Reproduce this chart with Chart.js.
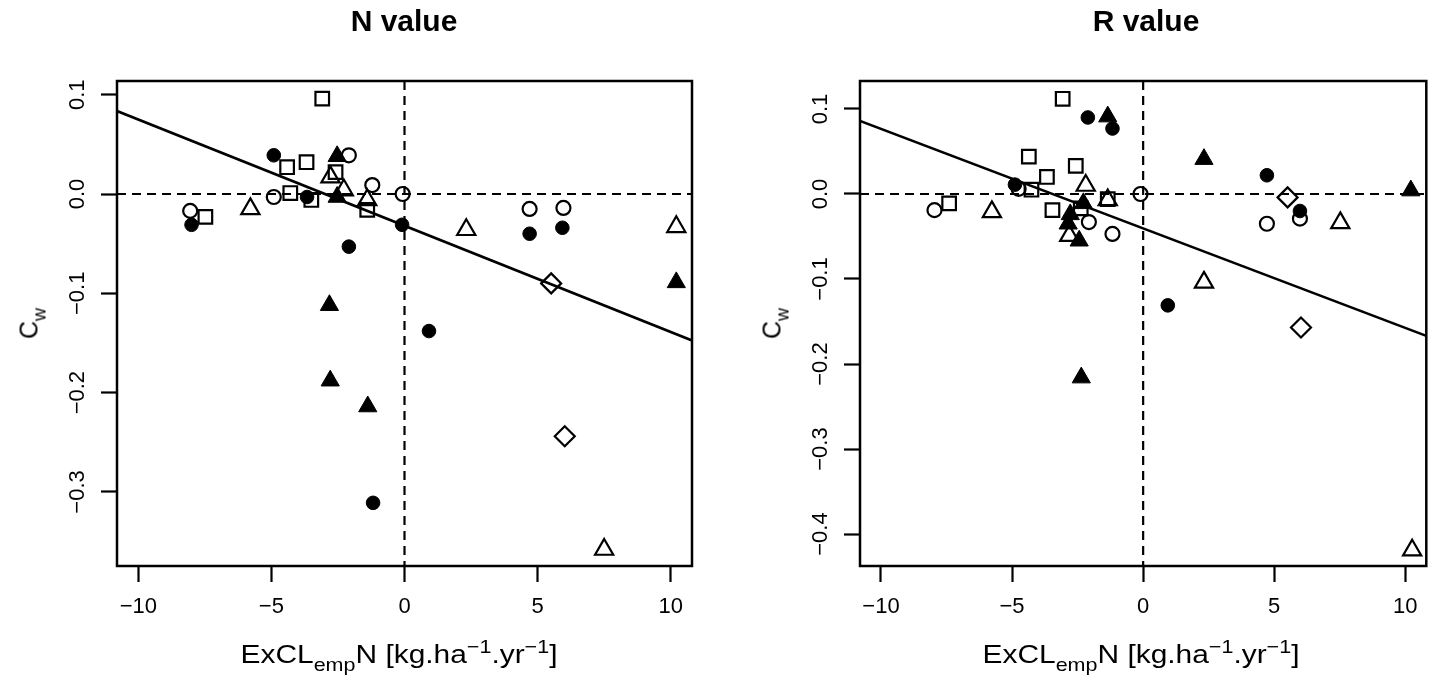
<!DOCTYPE html>
<html>
<head>
<meta charset="utf-8">
<script src="https://cdn.jsdelivr.net/npm/chart.js@4/dist/chart.umd.min.js"></script>
<style>
html, body { margin: 0; padding: 0; background: #fff; }
body { width: 1439px; height: 684px; position: relative; overflow: hidden;
       font-family: 'Liberation Sans', Arial, sans-serif; color: #000; }
canvas { position: absolute; top: 0; }
.title { position: absolute; top: 6px; width: 400px; text-align: center;
         font-weight: bold; font-size: 30px; line-height: 30px; white-space: nowrap; }
.xlab { position: absolute; top: 641px; width: 500px; text-align: center;
        font-size: 26px; line-height: 26px; white-space: nowrap; transform: scaleX(1.15); }
.ylab { position: absolute; top: 311px; width: 100px; height: 25px; text-align: center;
        font-size: 25px; line-height: 25px; white-space: nowrap; transform: rotate(-90deg); }
.sub { font-size: 72%; vertical-align: -0.45em; line-height: 0; }
.sup { font-size: 72%; vertical-align: 0.55em; line-height: 0; }
</style>
</head>
<body>
<canvas id="chartN" width="720" height="684" style="left:0"></canvas>
<canvas id="chartR" width="719" height="684" style="left:720px"></canvas>

<div class="title" style="left:204px">N value</div>
<div class="title" style="left:946px">R value</div>
<div class="xlab" style="left:149px">ExCL<span class="sub">emp</span>N [kg.ha<span class="sup">−1</span>.yr<span class="sup">−1</span>]</div>
<div class="xlab" style="left:891px">ExCL<span class="sub">emp</span>N [kg.ha<span class="sup">−1</span>.yr<span class="sup">−1</span>]</div>
<div class="ylab" style="left:-21px">C<span class="sub">w</span></div>
<div class="ylab" style="left:722px">C<span class="sub">w</span></div>

<script>
// axes
const xRange = [-10.8, 10.8];
const xTicks = [-10, -5, 0, 5, 10];
const xTickLabels = ['−10', '−5', '0', '5', '10'];

const nYRange = [-0.3746, 0.1138];
const nYTicks = [-0.3, -0.2, -0.1, 0, 0.1];
const nYTickLabels = ['−0.3', '−0.2', '−0.1', '0.0', '0.1'];

const rYRange = [-0.4376, 0.1329];
const rYTicks = [-0.4, -0.3, -0.2, -0.1, 0, 0.1];
const rYTickLabels = ['−0.4', '−0.3', '−0.2', '−0.1', '0.0', '0.1'];

const refLinesX = [0];
const refLinesY = [0];

// N value panel  [ExCL, Cw]
const nOpenCircle = [[-8.05,-0.017],[-4.91,-0.003],[-2.09,0.039],[-1.21,0.009],[-0.07,0.0],[4.70,-0.015],[5.97,-0.014]];
const nFilledCircle = [[-8.0,-0.031],[-4.91,0.039],[-3.66,-0.003],[-2.09,-0.053],[-1.18,-0.311],[-0.09,-0.031],[0.92,-0.138],[4.70,-0.040],[5.93,-0.034]];
const nOpenSquare = [[-7.48,-0.023],[-4.41,0.027],[-4.29,0.001],[-3.68,0.032],[-3.50,-0.006],[-3.09,0.096],[-2.59,0.022],[-1.40,-0.016]];
const nOpenTriangle = [[-5.79,-0.015],[-2.78,0.017],[-2.28,0.004],[-1.40,-0.006],[2.32,-0.036],[7.50,-0.358],[10.21,-0.033]];
const nFilledTriangle = [[-2.53,0.038],[-2.53,-0.003],[-2.82,-0.112],[-2.79,-0.188],[-1.38,-0.214],[10.21,-0.089]];
const nDiamond = [[5.51,-0.090],[6.02,-0.244]];
const nFitX = [-10.8, 10.8];
const nFitY = [0.0836, -0.1475];

// R value panel
const rOpenCircle = [[-7.96,-0.019],[-4.75,0.006],[-2.07,-0.033],[-1.17,-0.047],[-0.10,0.0],[4.72,-0.035],[5.98,-0.029]];
const rFilledCircle = [[-4.89,0.011],[-2.11,0.090],[-1.17,0.077],[0.94,-0.131],[4.72,0.022],[5.98,-0.020]];
const rOpenSquare = [[-7.40,-0.011],[-4.36,0.044],[-4.26,0.005],[-3.67,0.020],[-3.46,-0.019],[-3.07,0.112],[-2.57,0.033],[-2.38,-0.017],[-1.35,-0.006]];
const rOpenTriangle = [[-5.77,-0.021],[-2.19,0.010],[-2.82,-0.049],[-1.35,-0.007],[2.32,-0.104],[7.52,-0.034],[10.26,-0.419]];
const rFilledTriangle = [[-1.35,0.091],[-2.28,-0.011],[-2.78,-0.024],[-2.86,-0.035],[-2.44,-0.055],[-2.36,-0.216],[2.32,0.041],[10.21,0.004]];
const rDiamond = [[5.51,-0.004],[6.02,-0.157]];
const rFitX = [-10.8, 10.8];
const rFitY = [0.0859, -0.1669];

const toPts = arr => arr.map(p => ({ x: p[0], y: p[1] }));

// dashed reference lines + box around the plot region
const framePlugin = {
    id: 'frame',
    beforeDatasetsDraw(chart, args, opts) {
        const { ctx, chartArea: a, scales } = chart;
        ctx.save();
        ctx.beginPath();
        ctx.rect(a.left, a.top, a.right - a.left, a.bottom - a.top);
        ctx.clip();
        ctx.strokeStyle = '#000';
        ctx.lineWidth = 2.2;
        ctx.setLineDash([9, 6]);
        opts.refX.forEach(v => {
            const px = scales.x.getPixelForValue(v);
            ctx.beginPath(); ctx.moveTo(px, a.top); ctx.lineTo(px, a.bottom); ctx.stroke();
        });
        opts.refY.forEach(v => {
            const py = scales.y.getPixelForValue(v);
            ctx.beginPath(); ctx.moveTo(a.left, py); ctx.lineTo(a.right, py); ctx.stroke();
        });
        ctx.restore();
    },
    afterDraw(chart) {
        const { ctx, chartArea: a } = chart;
        ctx.save();
        ctx.strokeStyle = '#000';
        ctx.lineWidth = 2.5;
        ctx.strokeRect(a.left, a.top, a.right - a.left, a.bottom - a.top);
        ctx.restore();
    }
};

function markers(data, style, radius, filled) {
    return {
        data: toPts(data),
        pointStyle: style,
        pointRadius: radius,
        pointHoverRadius: radius,
        pointBorderWidth: filled ? 1 : 2.2,
        pointBorderColor: '#000',
        pointBackgroundColor: filled ? '#000' : 'rgba(0,0,0,0)'
    };
}

function makeChart(id, s, yRange, yTicks, yLabels, padRight, yWidth) {
    const fit = s.fitX.map((x, i) => ({ x: x, y: s.fitY[i] }));
    return new Chart(document.getElementById(id), {
        type: 'scatter',
        data: {
            datasets: [
                { data: fit, showLine: true, borderColor: '#000', borderWidth: 2.6, pointRadius: 0, fill: false },
                markers(s.openCircle, 'circle', 7, false),
                markers(s.filledCircle, 'circle', 6.8, true),
                markers(s.openSquare, 'rect', 9.6, false),
                markers(s.openTriangle, 'triangle', 10.5, false),
                markers(s.filledTriangle, 'triangle', 10.5, true),
                markers(s.diamond, 'rectRot', 10, false)
            ]
        },
        plugins: [framePlugin],
        options: {
            responsive: false,
            animation: false,
            layout: { padding: { top: 81, right: padRight, left: 0, bottom: 0 } },
            plugins: {
                legend: { display: false },
                tooltip: { enabled: false },
                frame: { refX: refLinesX, refY: refLinesY }
            },
            scales: {
                x: {
                    type: 'linear',
                    min: xRange[0], max: xRange[1],
                    afterBuildTicks: sc => { sc.ticks = xTicks.map(v => ({ value: v })); },
                    afterFit: sc => { sc.height = 118; },
                    border: { display: false },
                    grid: { drawOnChartArea: false, drawTicks: true, tickLength: 16, tickWidth: 2.2, tickColor: '#000' },
                    ticks: {
                        autoSkip: false, maxRotation: 0, padding: 12, color: '#000',
                        font: { family: 'Liberation Sans', size: 22 },
                        callback: (v, i) => xTickLabels[i]
                    }
                },
                y: {
                    type: 'linear',
                    min: yRange[0], max: yRange[1],
                    afterBuildTicks: sc => { sc.ticks = yTicks.map(v => ({ value: v })); },
                    afterFit: sc => { sc.width = yWidth; },
                    border: { display: false },
                    grid: { drawOnChartArea: false, drawTicks: true, tickLength: 16, tickWidth: 2.2, tickColor: '#000' },
                    ticks: {
                        autoSkip: false, minRotation: 90, maxRotation: 90, crossAlign: 'center',
                        padding: 1, color: '#000',
                        font: { family: 'Liberation Sans', size: 22 },
                        callback: (v, i) => yLabels[i]
                    }
                }
            }
        }
    });
}

makeChart('chartN', {
    openCircle: nOpenCircle, filledCircle: nFilledCircle, openSquare: nOpenSquare,
    openTriangle: nOpenTriangle, filledTriangle: nFilledTriangle, diamond: nDiamond,
    fitX: nFitX, fitY: nFitY
}, nYRange, nYTicks, nYTickLabels, 28, 117);

makeChart('chartR', {
    openCircle: rOpenCircle, filledCircle: rFilledCircle, openSquare: rOpenSquare,
    openTriangle: rOpenTriangle, filledTriangle: rFilledTriangle, diamond: rDiamond,
    fitX: rFitX, fitY: rFitY
}, rYRange, rYTicks, rYTickLabels, 6, 140);
</script>
</body>
</html>
